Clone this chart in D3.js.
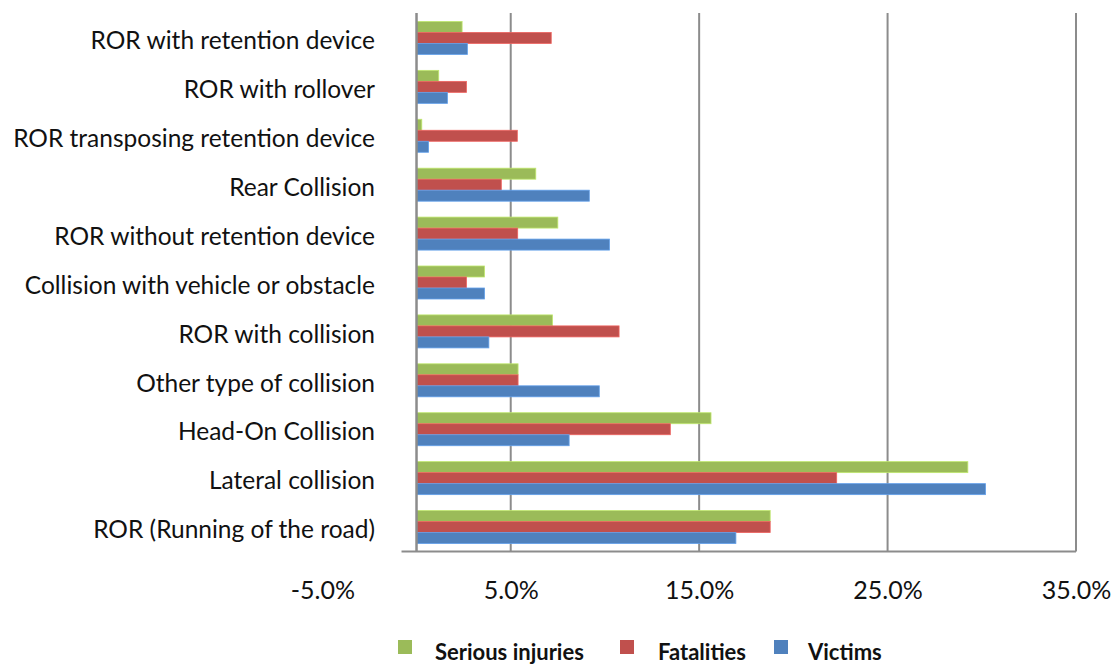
<!DOCTYPE html>
<html><head><meta charset="utf-8">
<script src="https://cdn.jsdelivr.net/npm/d3@7"></script>
<style>body{margin:0;background:#fff}svg{display:block}text{font-family:Lato,"Open Sans",sans-serif}</style>
</head><body><svg id="c" width="1116" height="666"></svg>
<script>
const categories = ["ROR with retention device","ROR with rollover","ROR transposing retention device","Rear Collision","ROR without retention device","Collision with vehicle or obstacle","ROR with collision","Other type of collision","Head-On Collision","Lateral collision","ROR (Running of the road)"];
const seriesNames = ["Serious injuries","Fatalities","Victims"];
const seriousInjuries = [0.0242,0.0118,0.0028,0.0633,0.0750,0.0361,0.0722,0.0539,0.1563,0.2926,0.1877];
const fatalities      = [0.0715,0.0265,0.0535,0.0450,0.0537,0.0265,0.1075,0.0539,0.1347,0.2230,0.1877];
const victims         = [0.0270,0.0164,0.0064,0.0917,0.1024,0.0361,0.0384,0.0970,0.0810,0.3020,0.1695];
const tickValues = [-0.05,0.05,0.15,0.25,0.35];
const gridValues = [0.05,0.15,0.25,0.35];
const colors = ["#9BBB59","#C0504D","#4F81BD"];

const svg = d3.select("#c");
const x = d3.scaleLinear().domain([-0.05,0.35]).range([322.3,1076]);
const y = d3.scaleBand().domain(categories).range([13.5,551.5]).paddingInner(0.325).paddingOuter(0.1625);
const ys = d3.scaleBand().domain(seriesNames).range([0,y.bandwidth()]);
const seriesData = [seriousInjuries,fatalities,victims];

// gridlines
svg.append("g").selectAll("line").data(gridValues).join("line")
  .attr("x1",d=>x(d)).attr("x2",d=>x(d)).attr("y1",13).attr("y2",551.5)
  .attr("stroke","#8c8c8c").attr("stroke-width",2);

// bars
const rows = categories.map((c,i)=>({c, vals: seriesData.map((s,k)=>({name:seriesNames[k], v:s[i], k}))}));
const g = svg.append("g").selectAll("g").data(rows).join("g").attr("transform",d=>`translate(0,${y(d.c)})`);
g.selectAll("rect").data(d=>d.vals).join("rect")
  .attr("x",x(0)).attr("y",d=>ys(d.name)).attr("height",ys.bandwidth())
  .attr("width",d=>x(d.v)-x(0)).attr("fill",d=>colors[d.k])
  .attr("stroke",d=>d3.color(colors[d.k]).brighter(0.6)).attr("stroke-width",0.8);

// vertical axis line at 0
svg.append("line").attr("x1",x(0)).attr("x2",x(0)).attr("y1",13).attr("y2",551.5)
  .attr("stroke","#8c8c8c").attr("stroke-width",2.5);
// horizontal axis line
svg.append("line").attr("x1",x(0)-15).attr("x2",x(0.35)).attr("y1",551.5).attr("y2",551.5)
  .attr("stroke","#8c8c8c").attr("stroke-width",2);

// x tick labels
const fmt = d3.format(".1%");
const ax = svg.append("g").attr("transform","translate(0,578)")
  .call(d3.axisBottom(x).tickValues(tickValues).tickFormat(d=>fmt(d).replace("\u2212","-")).tickSize(0));
ax.select(".domain").remove();
ax.selectAll("text").attr("font-size",25).attr("fill","#111").style("font-family","Lato,'Open Sans',sans-serif");

// category labels
svg.append("g").selectAll("text").data(categories).join("text")
  .attr("x",375).attr("y",d=>y(d)+y.bandwidth()/2+5)
  .attr("text-anchor","end").attr("dominant-baseline","middle")
  .attr("font-size",24.5).attr("fill","#111").text(d=>d);

// legend
const legX = [398,620,774];
const lg = svg.append("g").selectAll("g").data(seriesNames).join("g")
  .attr("transform",(d,i)=>`translate(${legX[i]},640)`);
lg.append("rect").attr("width",14).attr("height",14).attr("fill",(d,i)=>colors[i]);
lg.append("text").attr("x",(d,i)=>[37,38,34][i]).attr("y",20).attr("font-size",22).attr("font-weight","bold")
  .attr("fill","#111").text(d=>d);
</script></body></html>
